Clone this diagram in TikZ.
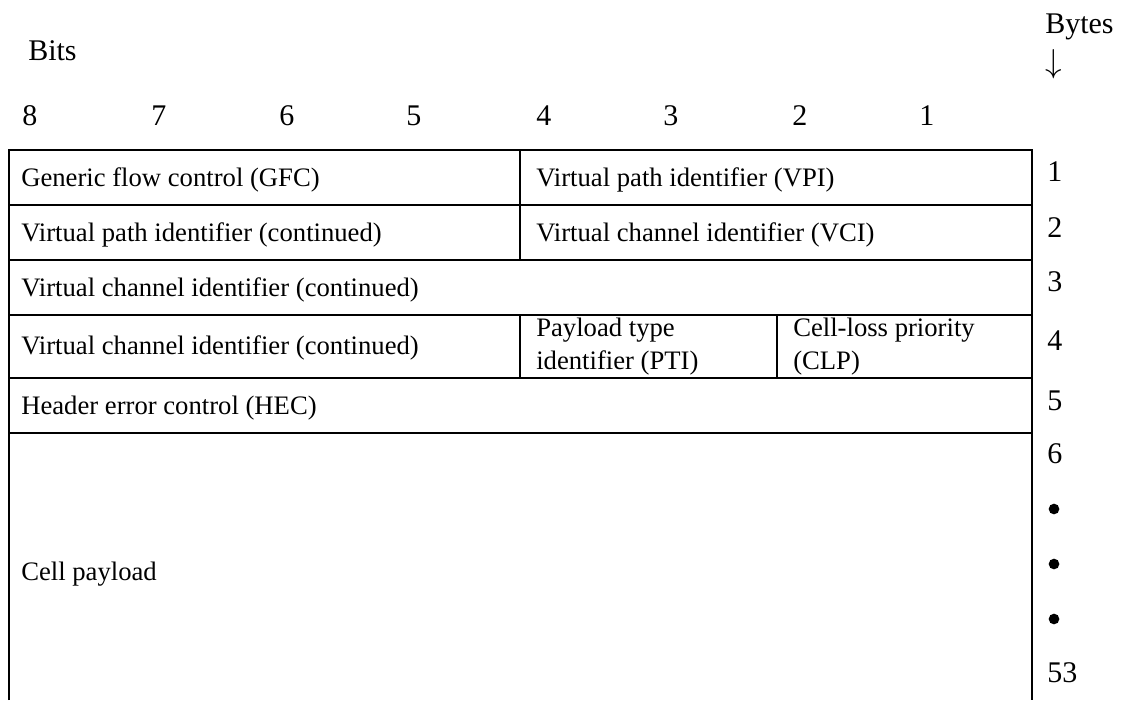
\documentclass[tikz,border=0pt]{standalone}
\usepackage{fontspec}
\setmainfont{Liberation Serif}
\begin{document}
\begin{tikzpicture}[x=0.75pt,y=-0.75pt,
  grid/.style={line width=1.5pt, line join=miter},
  celltext/.style={anchor=base west, inner sep=0pt, font=\fontsize{20}{23}\selectfont},
  headtext/.style={anchor=base west, inner sep=0pt, font=\fontsize{22.5}{26}\selectfont},
  dotmark/.style={circle, fill=black, inner sep=0pt, minimum size=8pt}]
\useasboundingbox (0,0) rectangle (1123,700);

% header labels
\node[headtext] (bits) at (28,60) {Bits};
\node[headtext] (bytes) at (1045,33) {Bytes};
\node[anchor=base west, inner sep=0pt, font=\fontsize{25}{28}\selectfont] (down) at (1045,72) {$\downarrow$};

% bit numbers
\foreach \b/\x in {8/22,7/151,6/279,5/406,4/536,3/663,2/792,1/919}
  \node[headtext] (bit\b) at (\x,125) {\b};

% frame and row rules
\draw[grid] (9,700) -- (9,150) -- (1032,150) -- (1032,700);
\foreach \y in {205,260,315,378,433}
  \draw[grid] (9,\y) -- (1032,\y);
\draw[grid] (520,150) -- (520,260);
\draw[grid] (520,315) -- (520,378);
\draw[grid] (777,315) -- (777,378);

% field names
\node[celltext] (gfc) at (21,186) {Generic flow control (GFC)};
\node[celltext] (vpi) at (536,186) {Virtual path identifier (VPI)};
\node[celltext] (vpicont) at (21,241) {Virtual path identifier (continued)};
\node[celltext] (vci) at (536,241) {Virtual channel identifier (VCI)};
\node[celltext] (vcicont) at (21,296) {Virtual channel identifier (continued)};
\node[celltext] (vcicontb) at (21,354) {Virtual channel identifier (continued)};
\node[celltext] (ptia) at (536,336) {Payload type};
\node[celltext] (ptib) at (536,369) {identifier (PTI)};
\node[celltext] (clpa) at (793,336) {Cell-loss priority};
\node[celltext] (clpb) at (793,369) {(CLP)};
\node[celltext] (hec) at (21,414) {Header error control (HEC)};
\node[celltext] (payload) at (21,580) {Cell payload};

% byte numbers
\foreach \n/\y in {1/181,2/237,3/291,4/350,5/410,6/463}
  \node[headtext] (byte\n) at (1047,\y) {\n};
\foreach \k/\y in {a/509,b/564,c/619}
  \node[dotmark] (dot\k) at (1054,\y) {};
\node[headtext] (byte53) at (1047,682) {53};
\end{tikzpicture}
\end{document}
